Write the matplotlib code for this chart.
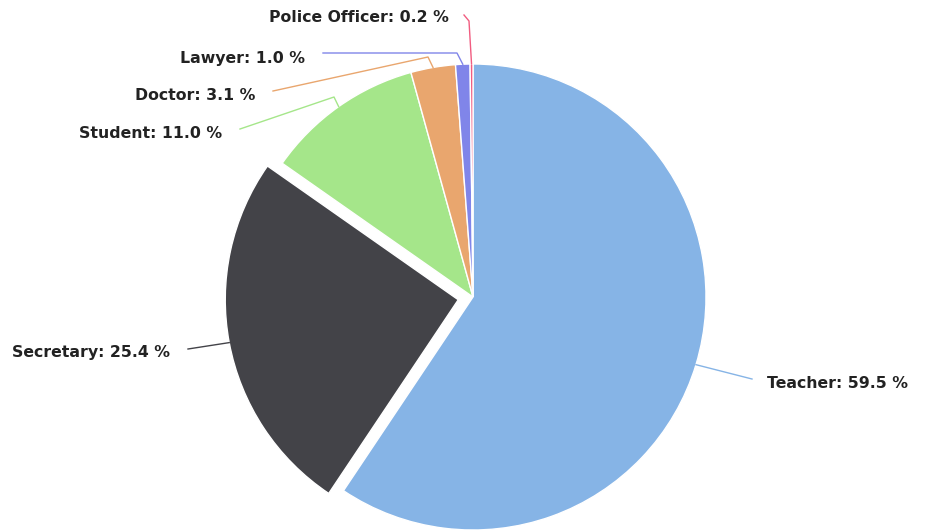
import math
import matplotlib
matplotlib.use("Agg")
import matplotlib.pyplot as plt

# ---- data ----
categories = ["Teacher", "Secretary", "Student", "Doctor", "Lawyer", "Police Officer"]
shares = [59.5, 25.4, 11.0, 3.1, 1.0, 0.2]
colors = ["#86b4e6", "#434348", "#a5e68a", "#e9a66e", "#8085e9", "#f15c80"]
explode_px = [0, 15, 0, 0, 0, 0]

# ---- layout (pixel coordinates, y downward) ----
W, H = 927, 530
CX, CY, R = 473, 297, 233
label_layout = {
    "Teacher":        dict(pos=(767, 384), ha="left",  elbow=None,       end=(752, 379)),
    "Secretary":      dict(pos=(170, 352), ha="right", elbow=None,       end=(188, 349)),
    "Student":        dict(pos=(222, 134), ha="right", elbow=(334, 97),  end=(240, 129)),
    "Doctor":         dict(pos=(255, 96),  ha="right", elbow=(428, 57),  end=(273, 91)),
    "Lawyer":         dict(pos=(305, 58),  ha="right", elbow=(457, 53),  end=(323, 53)),
    "Police Officer": dict(pos=(449, 18),  ha="right", elbow=(469, 21),  end=(464, 15)),
}

fig = plt.figure(figsize=(W / 100, H / 100), dpi=100)
ax = fig.add_axes([0, 0, 1, 1])

def Y(y):
    return H - y

ax.pie(shares, colors=colors, startangle=90, counterclock=False,
       radius=R, center=(CX, Y(CY)), explode=explode_px,
       wedgeprops=dict(edgecolor="white", linewidth=1.0))
ax.set_xlim(0, W)
ax.set_ylim(0, H)
ax.set_aspect("equal")
ax.axis("off")

total = sum(shares)
acc = 0.0
for cat, val, col, ex in zip(categories, shares, colors, explode_px):
    mid = (acc + val / 2) / total * 360.0  # clockwise from top
    acc += val
    s, c = math.sin(math.radians(mid)), math.cos(math.radians(mid))
    ex_x, ex_y = CX + (R + ex) * s, CY - (R + ex) * c
    lay = label_layout[cat]
    pts = [(ex_x, ex_y)]
    if lay["elbow"] is not None:
        pts.append(lay["elbow"])
    pts.append(lay["end"])
    ax.plot([p[0] for p in pts], [Y(p[1]) for p in pts], color=col, lw=1.0,
            solid_joinstyle="round")
    ax.text(lay["pos"][0], Y(lay["pos"][1]), f"{cat}: {val:.1f} %",
            ha=lay["ha"], va="center", fontsize=11.3, fontweight="bold",
            color="#222222", family=["DejaVu Sans"])

fig.savefig("out.png", dpi=100, facecolor="white")
